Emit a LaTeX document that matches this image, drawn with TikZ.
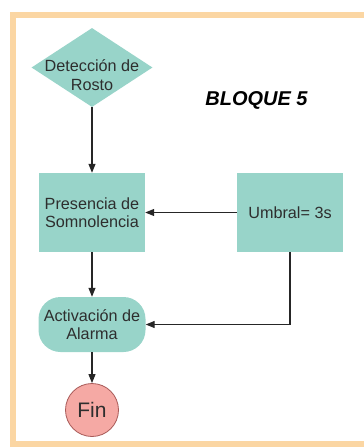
\documentclass[tikz,border=0pt]{standalone}
\usepackage{fontspec}
\setmainfont{Liberation Sans}
\usetikzlibrary{shapes.geometric,arrows.meta}
\definecolor{teal1}{HTML}{98D4C9}
\definecolor{frame1}{HTML}{FBD6A3}
\definecolor{finfill}{HTML}{F5A9A4}
\definecolor{finline}{HTML}{A85A58}
\definecolor{txt}{HTML}{2E2E2E}
\tikzset{
  box/.style={fill=teal1, draw=none, minimum width=106pt, minimum height=79pt, inner sep=0pt, align=center, text=txt, font=\fontsize{16.2}{18.5}\selectfont},
  lbl/.style={align=center, text=txt, font=\fontsize{16.2}{18.5}\selectfont, inner sep=0pt},
  conn/.style={draw=black!85, line width=1.1pt, -{Triangle[length=9pt,width=7pt]}},
}
\begin{document}
\begin{tikzpicture}[x=1pt,y=-1pt]
\useasboundingbox (0,0) rectangle (364,447);
\begin{scope}
\clip (0,0) rectangle (364,447);
\draw[frame1, line width=5.5pt] (13,15) rectangle (366.5,444);
\end{scope}
% diamond
\node[diamond, fill=teal1, minimum width=121pt, minimum height=79pt, inner sep=0pt] (d) at (92,67.5) {};
\node[lbl] (dt) at (92,75) {Detección de\\Rosto};
% title
\node[text=black, font=\fontsize{20}{22}\selectfont\bfseries\itshape, inner sep=0pt] (title) at (256.5,100) {BLOQUE 5};
% boxes
\node[box] (p) at (92,212.5) {Presencia de\\Somnolencia};
\node[box] (u) at (290,212.5) {Umbral= 3s};
\node[fill=teal1, rounded corners=22pt, minimum width=107pt, minimum height=55pt, inner sep=0pt, lbl] (a) at (92,324.5) {Activación de\\Alarma};
\node[circle, fill=finfill, draw=finline, line width=0.8pt, minimum size=53pt, inner sep=0pt, text=txt, font=\fontsize{21}{24}\selectfont] (f) at (92,410) {Fin};
% connectors
\draw[conn] (d.south) -- (p.north);
\draw[conn] (u.west) -- (p.east);
\draw[conn] (p.south) -- (a.north);
\draw[conn] (u.south) |- (a.east);
\draw[conn] (a.south) -- (f.north);
\end{tikzpicture}
\end{document}
